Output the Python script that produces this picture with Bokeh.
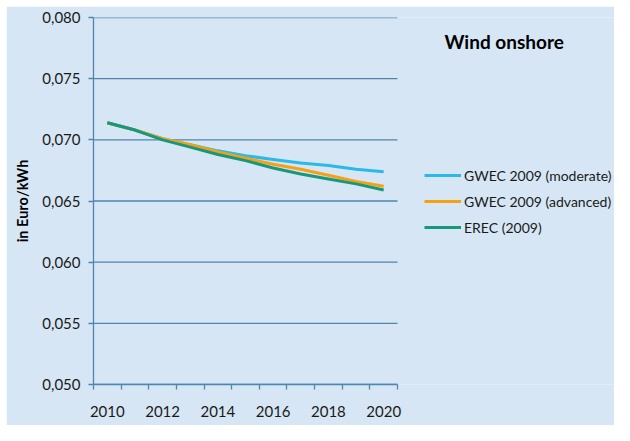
from bokeh.plotting import figure
from bokeh.layouts import column, row
from bokeh.models import (FixedTicker, CustomJSTickFormatter, Range1d, Legend, LegendItem, Label, Spacer)
from bokeh.embed import file_html
from bokeh.resources import INLINE

years = [2010, 2011, 2012, 2013, 2014, 2015, 2016, 2017, 2018, 2019, 2020]
gwec_moderate = [0.0714, 0.0708, 0.0701, 0.0696, 0.0691, 0.0687, 0.0684, 0.0681, 0.0679, 0.0676, 0.0674]
gwec_advanced = [0.0714, 0.0708, 0.0701, 0.0696, 0.0690, 0.0685, 0.0680, 0.0676, 0.0671, 0.0666, 0.0662]
erec = [0.0714, 0.0708, 0.0700, 0.0694, 0.0688, 0.0683, 0.0677, 0.0672, 0.0668, 0.0664, 0.0659]
series_names = ["GWEC 2009 (moderate)", "GWEC 2009 (advanced)", "EREC (2009)"]
colors = ["#2BB9E9", "#F7A012", "#17987A"]
y_ticks = [0.050, 0.055, 0.060, 0.065, 0.070, 0.075, 0.080]
x_label_years = [2010, 2012, 2014, 2016, 2018, 2020]
chart_title = "Wind onshore"

BG = "#D6E6F4"
GRID = "#4F86AF"
FONT = "Lato"

PAD_X, PAD_Y = 6, 6
W, H = 614 - PAD_X, 425 - PAD_Y
LEFT, TOP, BOTTOM = 87, 11, 41
PLOT_W = 304  # pixel width of the year span
x0 = years[0] - 0.5
x1 = years[-1] + 0.5
x_end = x0 + (W - LEFT) * (x1 - x0) / PLOT_W

p = figure(width=W, height=H, output_backend="svg", toolbar_location=None,
           x_range=Range1d(x0, x_end), y_range=Range1d(y_ticks[0], y_ticks[-1]),
           min_border_left=LEFT, min_border_right=0, min_border_top=TOP, min_border_bottom=BOTTOM)
p.background_fill_color = BG
p.border_fill_color = BG
p.outline_line_color = None
p.xgrid.grid_line_color = None
p.ygrid.grid_line_color = None

# horizontal grid lines limited to the year span
p.segment(x0=[x0] * len(y_ticks), y0=y_ticks, x1=[x1] * len(y_ticks), y1=y_ticks,
          line_color=GRID, line_width=1.3)

# x axis
p.xaxis.bounds = (x0, x1)
p.xaxis.ticker = FixedTicker(ticks=x_label_years, minor_ticks=[y - 0.5 for y in years] + [x1])
p.xaxis.major_tick_line_color = None
p.xaxis.major_tick_out = 0
p.xaxis.major_tick_in = 0
p.xaxis.minor_tick_line_color = GRID
p.xaxis.minor_tick_line_width = 1.3
p.xaxis.minor_tick_out = 5
p.xaxis.minor_tick_in = 0
p.xaxis.axis_line_color = GRID
p.xaxis.axis_line_width = 1.3
p.xaxis.major_label_standoff = 16
p.xaxis.major_label_text_font = FONT
p.xaxis.major_label_text_font_size = "15px"
p.xaxis.major_label_text_color = "#1a1a1a"
p.xaxis.formatter = CustomJSTickFormatter(code="return String(tick);")

# y axis
p.yaxis.ticker = FixedTicker(ticks=y_ticks)
p.yaxis.formatter = CustomJSTickFormatter(code="return tick.toFixed(3).replace('.', ',');")
p.yaxis.major_tick_line_color = GRID
p.yaxis.major_tick_line_width = 1.3
p.yaxis.major_tick_out = 5
p.yaxis.major_tick_in = 0
p.yaxis.minor_tick_line_color = None
p.yaxis.axis_line_color = GRID
p.yaxis.axis_line_width = 1.3
p.yaxis.major_label_standoff = 8
p.yaxis.major_label_text_font = FONT
p.yaxis.major_label_text_font_size = "15px"
p.yaxis.major_label_text_color = "#1a1a1a"
p.yaxis.axis_label = "in Euro/kWh"
p.yaxis.axis_label_text_font = FONT
p.yaxis.axis_label_text_font_style = "bold"
p.yaxis.axis_label_text_font_size = "14.5px"
p.yaxis.axis_label_text_color = "#000000"
p.yaxis.axis_label_standoff = 8

renderers = []
for vals, c in zip([gwec_moderate, gwec_advanced, erec], colors):
    r = p.line(years, vals, line_color=c, line_width=3)
    renderers.append(r)

legend = Legend(items=[LegendItem(label=n, renderers=[r]) for n, r in zip(series_names, renderers)],
                location=(331, 147), orientation="vertical")
legend.background_fill_alpha = 0
legend.border_line_color = None
legend.padding = 0
legend.margin = 0
legend.spacing = 6
legend.glyph_width = 37
legend.glyph_height = 20
legend.label_height = 20
legend.label_standoff = 3
legend.label_text_font = FONT
legend.label_text_font_size = "14px"
legend.label_text_color = "#1a1a1a"
p.add_layout(legend, "center")

title = Label(x=351, y=343, x_units="screen", y_units="screen", text=chart_title,
              text_font=FONT, text_font_style="bold", text_font_size="19px",
              text_baseline="middle", text_color="#000000")
p.add_layout(title)

layout = column(Spacer(height=PAD_Y, width=W + PAD_X),
                row(Spacer(width=PAD_X, height=H), p, spacing=0), spacing=0)

open("out.html", "w").write(file_html(layout, INLINE))
